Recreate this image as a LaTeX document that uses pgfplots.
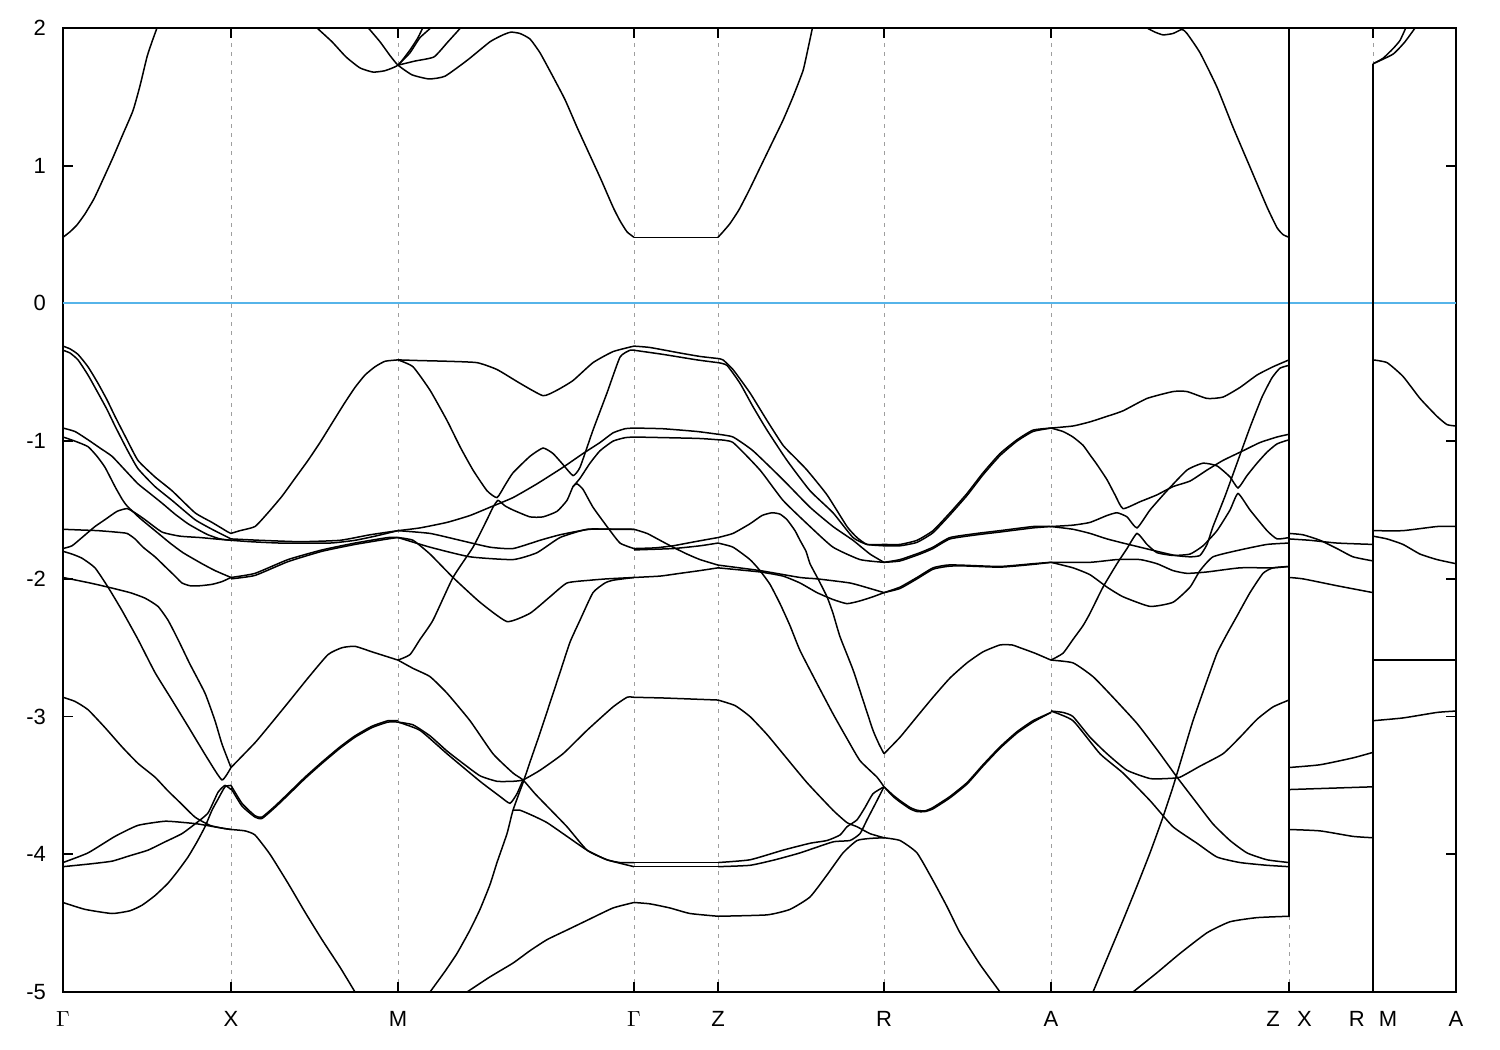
\documentclass[border=0pt]{standalone}
\usepackage{pgfplots}
\pgfplotsset{compat=1.18}
\usepackage{fontspec}
\setmainfont{Liberation Sans}
\definecolor{zeroblue}{RGB}{86,180,233}
\pgfplotsset{b/.style={black,line width=0.75pt,mark=none,smooth,tension=0.3}}
\begin{document}
\begin{tikzpicture}
\useasboundingbox (-31.5pt,-29pt) rectangle (718.5pt,496pt);
\begin{axis}[
  at={(0pt,0pt)}, anchor=south west,
  scale only axis, width=696.5pt, height=482pt,
  xmin=63, xmax=1456, ymin=-5, ymax=2,
  axis line style={line width=0.8pt},
  xtick={63,231,398,634,718,884,1051,1289,1373,1456},
  xticklabels={$\Gamma$,X,M,$\Gamma$,Z,R,A,{Z\hspace{8.7pt}X},{R\hspace{7pt}M},A},
  ytick={-5,-4,-3,-2,-1,0,1,2},
  yticklabels={-5,-4,-3,-2,-1,0,1,2},
  tick align=inside, major tick length=5pt,
  tick style={black,line width=0.8pt},
  xmajorgrids,
  grid style={black!38,dash pattern=on 2pt off 2.5pt,line width=0.5pt},
  font=\fontsize{11}{13}\selectfont,
  yticklabel style={xshift=-5pt},
  xticklabel style={yshift=-6pt},
  clip=true,
]
% zero line
\addplot[zeroblue,line width=1pt,mark=none] coordinates {(63,0)(1456,0)};
% conduction bands
\addplot[b] coordinates {(63,0.48)(70,0.52)(77,0.57)(85,0.65)(94,0.76)(103,0.90)(113,1.06)(123,1.23)(133,1.40)(140,1.58)(147,1.79)(152,1.90)(157,2.0)(160,2.05)};
\addplot[b] coordinates {(317,2.0)(332,1.90)(346,1.79)(360,1.71)(373,1.68)(385,1.69)(398,1.73)(410,1.84)(418,1.93)(424,2.02)};
\addplot[b] coordinates {(366,2.02)(380,1.90)(390,1.80)(398,1.73)(412,1.66)(429,1.63)(445,1.65)(468,1.77)(490,1.90)(503,1.95)(511,1.97)(520,1.96)(530,1.92)(540,1.82)(552,1.66)(565,1.48)(577,1.28)(589,1.09)(601,0.90)(613,0.70)(620,0.60)(627,0.52)(634,0.48)};
\addplot[b] coordinates {(634,0.48)(718,0.48)};
\addplot[b] coordinates {(718,0.48)(723,0.52)(730,0.58)(739,0.68)(749,0.82)(759,0.97)(771,1.15)(783,1.33)(793,1.50)(803,1.69)(808,1.85)(813,2.02)};
\addplot[b] coordinates {(398,1.73)(410,1.82)(420,1.93)(434,2.02)};
\addplot[b] coordinates {(398,1.73)(415,1.76)(434,1.79)(448,1.90)(463,2.02)};
\addplot[b] coordinates {(1147,2.0)(1155,1.97)(1163,1.95)(1173,1.96)(1182,1.99)(1187,1.96)(1200,1.82)(1217,1.57)(1233,1.28)(1250,0.99)(1267,0.70)(1277,0.55)(1283,0.50)(1289,0.48)};
\addplot[b] coordinates {(1373,1.74)(1383,1.78)(1393,1.85)(1400,1.91)(1407,2.02)};
\addplot[b] coordinates {(1373,1.74)(1393,1.81)(1405,1.90)(1417,2.02)};
% path breaks
\addplot[b] coordinates {(1289,2.05)(1289,-4.45)};
\addplot[b] coordinates {(1373,1.74)(1373,-5.05)};
% Gamma - X
\addplot[b] coordinates {(63,-0.31)(70,-0.33)(78,-0.37)(88,-0.46)(98,-0.58)(107,-0.70)(115,-0.82)(127,-0.99)(138,-1.14)(155,-1.26)(172,-1.36)(195,-1.52)(212,-1.59)(228,-1.66)(231,-1.67)};
\addplot[b] coordinates {(63,-0.34)(70,-0.36)(78,-0.41)(88,-0.52)(98,-0.65)(107,-0.77)(115,-0.89)(127,-1.06)(138,-1.20)(155,-1.33)(172,-1.43)(195,-1.57)(212,-1.64)(231,-1.71)};
\addplot[b] coordinates {(63,-0.905)(75,-0.93)(88,-0.99)(100,-1.05)(112,-1.11)(125,-1.21)(138,-1.31)(150,-1.38)(162,-1.45)(175,-1.53)(188,-1.60)(200,-1.65)(208,-1.68)(220,-1.71)(231,-1.72)};
\addplot[b] coordinates {(63,-0.97)(75,-1.0)(88,-1.04)(97,-1.11)(105,-1.19)(115,-1.33)(122,-1.42)(127,-1.47)(140,-1.56)(155,-1.65)(170,-1.74)(183,-1.81)(202,-1.89)(215,-1.94)(231,-1.99)};
\addplot[b] coordinates {(63,-1.78)(72,-1.76)(82,-1.70)(95,-1.62)(105,-1.57)(117,-1.51)(127,-1.49)(135,-1.52)(145,-1.57)(162,-1.66)(180,-1.69)(200,-1.70)(215,-1.71)(231,-1.72)};
\addplot[b] coordinates {(63,-1.64)(80,-1.645)(98,-1.65)(115,-1.66)(127,-1.67)(135,-1.71)(143,-1.77)(155,-1.84)(165,-1.91)(175,-1.98)(182,-2.03)(190,-2.05)(200,-2.05)(212,-2.04)(222,-2.02)(231,-1.99)};
\addplot[b] coordinates {(63,-1.80)(72,-1.82)(82,-1.85)(95,-1.92)(108,-2.06)(122,-2.23)(138,-2.44)(155,-2.68)(172,-2.88)(188,-3.07)(208,-3.31)(222,-3.46)(231,-3.37)};
\addplot[b] coordinates {(63,-1.99)(90,-2.03)(108,-2.06)(130,-2.10)(145,-2.14)(158,-2.20)(168,-2.30)(178,-2.44)(190,-2.62)(205,-2.83)(215,-3.03)(222,-3.20)(231,-3.37)};
\addplot[b] coordinates {(63,-2.86)(75,-2.89)(88,-2.95)(105,-3.08)(122,-3.22)(138,-3.34)(155,-3.44)(168,-3.54)(178,-3.61)(195,-3.73)(210,-3.79)(222,-3.81)(231,-3.82)};
\addplot[b] coordinates {(63,-4.06)(88,-3.99)(115,-3.87)(138,-3.79)(165,-3.76)(185,-3.77)(198,-3.78)(222,-3.81)(231,-3.82)};
\addplot[b] coordinates {(63,-4.09)(90,-4.07)(112,-4.05)(130,-4.01)(148,-3.97)(165,-3.91)(182,-3.85)(195,-3.78)(208,-3.70)(218,-3.55)(225,-3.50)(231,-3.53)};
\addplot[b] coordinates {(63,-4.35)(85,-4.40)(112,-4.43)(130,-4.41)(142,-4.37)(155,-4.30)(168,-4.21)(178,-4.12)(188,-4.02)(197,-3.91)(205,-3.80)(212,-3.68)(218,-3.60)(225,-3.51)(231,-3.50)};
% X - M
\addplot[b] coordinates {(231,-1.67)(240,-1.65)(255,-1.62)(268,-1.52)(282,-1.40)(295,-1.27)(308,-1.14)(320,-1.01)(332,-0.87)(344,-0.73)(355,-0.61)(365,-0.52)(375,-0.46)(385,-0.42)(398,-0.41)};
\addplot[b] coordinates {(231,-1.72)(250,-1.73)(280,-1.74)(330,-1.74)(355,-1.72)(375,-1.69)(398,-1.65)};
\addplot[b] coordinates {(231,-1.71)(260,-1.72)(300,-1.73)(340,-1.72)(370,-1.68)(398,-1.65)};
\addplot[b] coordinates {(231,-1.99)(255,-1.96)(288,-1.86)(322,-1.79)(355,-1.74)(388,-1.70)(398,-1.70)};
\addplot[b] coordinates {(231,-2.0)(255,-1.975)(288,-1.875)(322,-1.80)(355,-1.75)(388,-1.71)(398,-1.70)};
\addplot[b] coordinates {(231,-3.37)(255,-3.19)(270,-3.06)(288,-2.90)(308,-2.72)(328,-2.55)(342,-2.50)(355,-2.49)(372,-2.53)(385,-2.56)(398,-2.59)};
\addplot[b] coordinates {(231,-3.52)(242,-3.65)(255,-3.73)(262,-3.74)(275,-3.66)(288,-3.57)(305,-3.45)(322,-3.34)(340,-3.23)(355,-3.15)(372,-3.08)(388,-3.04)(398,-3.04)};
\addplot[b] coordinates {(231,-3.50)(242,-3.63)(255,-3.72)(262,-3.73)(275,-3.65)(288,-3.56)(305,-3.44)(322,-3.33)(340,-3.22)(355,-3.14)(372,-3.07)(388,-3.03)(398,-3.03)};
\addplot[b] coordinates {(231,-3.82)(245,-3.83)(255,-3.86)(270,-4.0)(288,-4.21)(305,-4.42)(322,-4.62)(340,-4.82)(355,-5.0)(360,-5.06)};
% M - Gamma
\addplot[b] coordinates {(398,-0.41)(420,-0.415)(447,-0.42)(477,-0.43)(497,-0.48)(520,-0.58)(543,-0.67)(557,-0.63)(573,-0.56)(593,-0.43)(613,-0.35)(634,-0.31)};
\addplot[b] coordinates {(398,-0.41)(413,-0.46)(430,-0.63)(447,-0.85)(460,-1.04)(473,-1.21)(487,-1.36)(497,-1.41)(505,-1.32)(513,-1.23)(530,-1.11)(543,-1.05)(553,-1.09)(563,-1.17)(573,-1.25)(580,-1.19)(593,-0.92)(607,-0.65)(620,-0.39)(630,-0.34)(634,-0.34)};
\addplot[b] coordinates {(398,-2.59)(410,-2.55)(420,-2.44)(433,-2.30)(453,-1.99)(473,-1.77)(487,-1.57)(493,-1.48)(498,-1.43)(505,-1.47)(513,-1.50)(530,-1.55)(543,-1.55)(557,-1.51)(567,-1.43)(573,-1.33)(577,-1.31)(583,-1.35)(593,-1.48)(607,-1.62)(620,-1.74)(634,-1.78)};
\addplot[b] coordinates {(398,-1.65)(420,-1.63)(447,-1.59)(470,-1.54)(490,-1.48)(513,-1.41)(537,-1.31)(563,-1.19)(583,-1.09)(600,-1.01)(613,-0.94)(625,-0.91)(634,-0.905)};
\addplot[b] coordinates {(573,-1.33)(580,-1.27)(590,-1.16)(600,-1.07)(613,-1.0)(625,-0.975)(634,-0.97)};
\addplot[b] coordinates {(398,-1.65)(430,-1.67)(460,-1.72)(490,-1.77)(513,-1.78)(540,-1.72)(560,-1.68)(590,-1.64)(634,-1.64)};
\addplot[b] coordinates {(398,-1.70)(430,-1.77)(470,-1.84)(513,-1.86)(537,-1.81)(560,-1.70)(587,-1.64)(613,-1.64)(634,-1.64)};
\addplot[b] coordinates {(398,-1.70)(413,-1.72)(430,-1.82)(453,-1.99)(480,-2.17)(507,-2.31)(530,-2.25)(550,-2.13)(567,-2.03)(590,-2.01)(607,-2.0)(634,-1.99)};
\addplot[b] coordinates {(430,-5.0)(445,-4.85)(457,-4.72)(470,-4.55)(480,-4.40)(490,-4.22)(497,-4.06)(507,-3.85)(513,-3.68)(523,-3.48)(530,-3.33)(540,-3.12)(550,-2.90)(560,-2.68)(570,-2.46)(580,-2.30)(593,-2.10)(605,-2.03)(613,-2.01)(634,-1.99)};
\addplot[b] coordinates {(513,-3.68)(520,-3.68)(533,-3.72)(547,-3.77)(567,-3.87)(587,-3.97)(607,-4.04)(634,-4.09)};
\addplot[b] coordinates {(398,-2.59)(413,-2.65)(430,-2.71)(447,-2.83)(470,-3.03)(493,-3.27)(513,-3.41)(523,-3.46)(535,-3.56)(547,-3.65)(567,-3.80)(587,-3.97)(607,-4.04)(620,-4.06)(634,-4.06)};
\addplot[b] coordinates {(398,-3.04)(413,-3.06)(430,-3.14)(447,-3.25)(463,-3.34)(480,-3.43)(497,-3.47)(513,-3.47)(523,-3.46)(540,-3.39)(563,-3.27)(587,-3.10)(613,-2.93)(627,-2.86)(634,-2.86)};
\addplot[b] coordinates {(398,-3.04)(420,-3.10)(447,-3.27)(480,-3.47)(500,-3.58)(510,-3.63)(517,-3.56)(523,-3.46)};
\addplot[b] coordinates {(467,-5.0)(490,-4.89)(513,-4.79)(530,-4.70)(547,-4.62)(567,-4.55)(587,-4.48)(613,-4.39)(634,-4.35)};
% Gamma - Z
\addplot[b] coordinates {(634,-0.31)(650,-0.32)(680,-0.36)(700,-0.385)(718,-0.40)};
\addplot[b] coordinates {(634,-0.34)(663,-0.37)(697,-0.41)(718,-0.43)};
\addplot[b] coordinates {(634,-0.905)(663,-0.91)(697,-0.93)(718,-0.95)};
\addplot[b] coordinates {(634,-0.97)(697,-0.98)(718,-0.99)};
\addplot[b] coordinates {(634,-1.64)(647,-1.67)(660,-1.72)(673,-1.77)(687,-1.82)(700,-1.86)(718,-1.90)};
\addplot[b] coordinates {(634,-1.78)(655,-1.775)(673,-1.76)(695,-1.73)(718,-1.70)};
\addplot[b] coordinates {(634,-1.79)(673,-1.78)(700,-1.76)(718,-1.74)};
\addplot[b] coordinates {(634,-1.99)(660,-1.98)(680,-1.96)(700,-1.94)(718,-1.92)};
\addplot[b] coordinates {(634,-2.86)(663,-2.865)(700,-2.875)(718,-2.88)};
\addplot[b] coordinates {(634,-4.06)(718,-4.06)};
\addplot[b] coordinates {(634,-4.09)(718,-4.09)};
\addplot[b] coordinates {(634,-4.35)(650,-4.36)(670,-4.39)(690,-4.43)(718,-4.45)};
% Z - R
\addplot[b] coordinates {(718,-0.40)(723,-0.41)(733,-0.48)(750,-0.65)(767,-0.85)(783,-1.03)(795,-1.12)(807,-1.21)(827,-1.39)(847,-1.62)(857,-1.70)(867,-1.75)(884,-1.75)};
\addplot[b] coordinates {(718,-0.43)(727,-0.45)(740,-0.58)(753,-0.75)(767,-0.92)(787,-1.14)(810,-1.36)(833,-1.52)(853,-1.70)(867,-1.75)(884,-1.76)};
\addplot[b] coordinates {(718,-0.95)(733,-0.97)(753,-1.07)(783,-1.28)(810,-1.48)(833,-1.62)(853,-1.72)(870,-1.82)(884,-1.88)};
\addplot[b] coordinates {(718,-0.99)(733,-1.01)(760,-1.21)(783,-1.43)(810,-1.62)(833,-1.77)(860,-1.86)(884,-1.88)};
\addplot[b] coordinates {(718,-1.70)(733,-1.67)(750,-1.60)(762,-1.54)(772,-1.52)(780,-1.53)(787,-1.57)(795,-1.65)(800,-1.72)(806,-1.80)(810,-1.89)(818,-2.0)(827,-2.13)(833,-2.25)(840,-2.42)(853,-2.66)(863,-2.88)(873,-3.10)(879,-3.20)(884,-3.27)};
\addplot[b] coordinates {(718,-1.74)(733,-1.77)(750,-1.86)(760,-1.94)(770,-2.04)(780,-2.18)(790,-2.34)(800,-2.52)(817,-2.76)(833,-2.98)(847,-3.16)(860,-3.32)(877,-3.44)(884,-3.51)};
\addplot[b] coordinates {(718,-1.90)(760,-1.94)(800,-1.99)(817,-2.0)(850,-2.03)(870,-2.07)(884,-2.10)};
\addplot[b] coordinates {(718,-1.92)(760,-1.95)(783,-1.98)(800,-2.03)(817,-2.10)(833,-2.15)(847,-2.18)(860,-2.16)(873,-2.13)(884,-2.10)};
\addplot[b] coordinates {(718,-2.88)(735,-2.92)(750,-3.0)(767,-3.13)(783,-3.27)(807,-3.48)(833,-3.68)(847,-3.77)(857,-3.80)(870,-3.85)(884,-3.88)};
\addplot[b] coordinates {(718,-4.06)(750,-4.04)(783,-3.97)(810,-3.92)(827,-3.90)(840,-3.86)(847,-3.80)(857,-3.75)(865,-3.66)(873,-3.56)(884,-3.51)};
\addplot[b] coordinates {(718,-4.09)(750,-4.08)(775,-4.04)(800,-3.99)(833,-3.91)(850,-3.90)(860,-3.85)(867,-3.75)(877,-3.61)(884,-3.51)};
\addplot[b] coordinates {(718,-4.45)(767,-4.44)(790,-4.40)(810,-4.31)(827,-4.15)(843,-3.99)(857,-3.90)(870,-3.885)(884,-3.88)};
% R - A
\addplot[b] coordinates {(884,-1.75)(900,-1.75)(917,-1.72)(933,-1.65)(950,-1.52)(967,-1.38)(983,-1.23)(1000,-1.09)(1017,-0.99)(1033,-0.92)(1051,-0.905)};
\addplot[b] coordinates {(884,-1.76)(900,-1.76)(917,-1.735)(933,-1.665)(950,-1.535)(967,-1.395)(983,-1.245)(1000,-1.105)(1017,-1.0)(1033,-0.93)(1051,-0.905)};
\addplot[b] coordinates {(884,-1.88)(900,-1.86)(920,-1.81)(933,-1.77)(950,-1.70)(977,-1.67)(1000,-1.65)(1033,-1.62)(1051,-1.62)};
\addplot[b] coordinates {(884,-1.88)(900,-1.87)(920,-1.82)(933,-1.78)(950,-1.71)(977,-1.68)(1000,-1.66)(1033,-1.63)(1051,-1.62)};
\addplot[b] coordinates {(884,-2.10)(900,-2.06)(917,-1.99)(933,-1.92)(947,-1.90)(960,-1.90)(1000,-1.91)(1033,-1.89)(1051,-1.88)};
\addplot[b] coordinates {(884,-2.10)(900,-2.07)(917,-2.0)(933,-1.93)(947,-1.91)(960,-1.905)(1000,-1.915)(1033,-1.895)(1051,-1.88)};
\addplot[b] coordinates {(884,-3.27)(900,-3.15)(917,-3.0)(933,-2.86)(950,-2.72)(967,-2.61)(983,-2.53)(1000,-2.48)(1012,-2.48)(1020,-2.50)(1035,-2.54)(1051,-2.59)};
\addplot[b] coordinates {(884,-3.51)(893,-3.57)(900,-3.61)(910,-3.66)(917,-3.68)(925,-3.685)(933,-3.66)(950,-3.58)(967,-3.48)(983,-3.35)(1000,-3.22)(1017,-3.11)(1033,-3.03)(1051,-2.97)};
\addplot[b] coordinates {(884,-3.51)(893,-3.58)(900,-3.62)(910,-3.67)(917,-3.69)(925,-3.69)(933,-3.67)(950,-3.59)(967,-3.49)(983,-3.36)(1000,-3.23)(1017,-3.12)(1033,-3.04)(1051,-2.97)};
\addplot[b] coordinates {(884,-3.88)(900,-3.90)(917,-3.99)(933,-4.19)(947,-4.38)(960,-4.57)(980,-4.80)(1000,-5.0)(1005,-5.06)};
% A - Z
\addplot[b] coordinates {(1051,-0.905)(1073,-0.89)(1090,-0.86)(1107,-0.82)(1123,-0.78)(1147,-0.69)(1173,-0.64)(1187,-0.64)(1207,-0.69)(1223,-0.68)(1240,-0.61)(1257,-0.52)(1273,-0.46)(1289,-0.41)};
\addplot[b] coordinates {(1051,-0.905)(1063,-0.93)(1073,-0.97)(1083,-1.03)(1090,-1.10)(1097,-1.17)(1107,-1.28)(1115,-1.39)(1123,-1.49)(1140,-1.44)(1157,-1.39)(1173,-1.33)(1190,-1.29)(1207,-1.21)(1223,-1.14)(1243,-1.07)(1260,-1.01)(1277,-0.97)(1289,-0.95)};
\addplot[b] coordinates {(1051,-1.62)(1073,-1.61)(1090,-1.59)(1107,-1.54)(1117,-1.52)(1127,-1.55)(1137,-1.63)(1150,-1.50)(1167,-1.36)(1187,-1.21)(1203,-1.16)(1217,-1.18)(1230,-1.26)(1238,-1.34)(1247,-1.25)(1257,-1.16)(1267,-1.08)(1277,-1.02)(1289,-0.99)};
\addplot[b] coordinates {(1051,-1.62)(1073,-1.64)(1090,-1.67)(1107,-1.71)(1123,-1.74)(1140,-1.77)(1157,-1.80)(1175,-1.83)(1190,-1.84)(1200,-1.83)(1207,-1.75)(1213,-1.62)(1225,-1.40)(1237,-1.16)(1250,-0.90)(1262,-0.68)(1272,-0.54)(1280,-0.47)(1289,-0.45)};
\addplot[b] coordinates {(1051,-2.59)(1063,-2.54)(1073,-2.44)(1083,-2.34)(1090,-2.25)(1103,-2.06)(1117,-1.89)(1127,-1.78)(1137,-1.67)(1147,-1.75)(1157,-1.81)(1173,-1.83)(1190,-1.82)(1203,-1.76)(1217,-1.65)(1230,-1.50)(1238,-1.38)(1250,-1.50)(1267,-1.65)(1277,-1.71)(1289,-1.70)};
\addplot[b] coordinates {(1051,-1.88)(1090,-1.88)(1117,-1.86)(1140,-1.86)(1157,-1.89)(1173,-1.94)(1187,-1.96)(1207,-1.95)(1240,-1.92)(1273,-1.92)(1289,-1.91)};
\addplot[b] coordinates {(1051,-1.88)(1073,-1.92)(1090,-1.97)(1107,-2.06)(1123,-2.13)(1150,-2.20)(1173,-2.17)(1190,-2.06)(1200,-1.94)(1213,-1.84)(1240,-1.79)(1267,-1.75)(1289,-1.74)};
\addplot[b] coordinates {(1093,-5.0)(1108,-4.74)(1123,-4.48)(1137,-4.23)(1150,-3.99)(1162,-3.75)(1173,-3.51)(1183,-3.27)(1193,-3.03)(1205,-2.78)(1217,-2.54)(1227,-2.40)(1237,-2.27)(1250,-2.10)(1263,-1.96)(1273,-1.92)(1289,-1.91)};
\addplot[b] coordinates {(1051,-2.59)(1073,-2.61)(1093,-2.71)(1113,-2.86)(1137,-3.05)(1157,-3.24)(1177,-3.44)(1197,-3.63)(1213,-3.78)(1230,-3.90)(1247,-3.99)(1267,-4.04)(1289,-4.06)};
\addplot[b] coordinates {(1051,-2.96)(1063,-2.97)(1073,-3.0)(1090,-3.15)(1107,-3.27)(1127,-3.39)(1150,-3.45)(1167,-3.45)(1180,-3.44)(1200,-3.36)(1223,-3.27)(1240,-3.15)(1257,-3.02)(1273,-2.93)(1289,-2.88)};
\addplot[b] coordinates {(1051,-2.96)(1073,-3.03)(1100,-3.27)(1123,-3.41)(1150,-3.61)(1173,-3.80)(1197,-3.92)(1217,-4.02)(1240,-4.06)(1267,-4.08)(1289,-4.09)};
\addplot[b] coordinates {(1133,-5.0)(1157,-4.86)(1180,-4.72)(1207,-4.57)(1230,-4.49)(1257,-4.46)(1289,-4.45)};
% X - R
\addplot[b] coordinates {(1289,-1.67)(1303,-1.68)(1320,-1.72)(1337,-1.78)(1353,-1.84)(1373,-1.87)};
\addplot[b] coordinates {(1289,-1.71)(1310,-1.72)(1337,-1.74)(1373,-1.75)};
\addplot[b] coordinates {(1289,-1.99)(1303,-2.0)(1337,-2.05)(1373,-2.10)};
\addplot[b] coordinates {(1289,-3.37)(1320,-3.35)(1353,-3.30)(1373,-3.26)};
\addplot[b] coordinates {(1289,-3.53)(1373,-3.51)};
\addplot[b] coordinates {(1289,-3.82)(1320,-3.83)(1353,-3.87)(1373,-3.88)};
% M - A
\addplot[b] coordinates {(1373,-0.41)(1387,-0.43)(1403,-0.53)(1420,-0.69)(1437,-0.82)(1447,-0.88)(1456,-0.89)};
\addplot[b] coordinates {(1373,-1.65)(1403,-1.65)(1437,-1.62)(1456,-1.62)};
\addplot[b] coordinates {(1373,-1.69)(1387,-1.71)(1403,-1.75)(1420,-1.82)(1437,-1.86)(1456,-1.89)};
\addplot[b] coordinates {(1373,-2.59)(1456,-2.59)};
\addplot[b] coordinates {(1373,-3.03)(1403,-3.01)(1437,-2.97)(1456,-2.96)};
\end{axis}
\end{tikzpicture}
\end{document}
